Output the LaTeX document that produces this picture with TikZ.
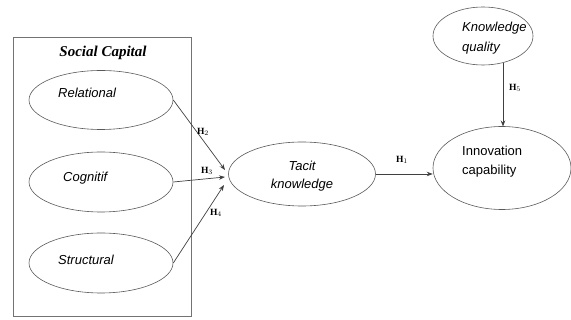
\documentclass[tikz,border=0pt]{standalone}
\usepackage{fontspec}
\setmainfont{Liberation Serif}
\newfontfamily\arialf{Liberation Sans}
\usetikzlibrary{arrows.meta,shapes.geometric}
\begin{document}
\begin{tikzpicture}[x=1pt,y=-1pt,
  ell/.style={draw=black!65,line width=0.6pt,ellipse,inner sep=0pt},
  lbl/.style={font=\arialf\itshape\fontsize{13}{18.5}\selectfont,align=left,inner sep=0pt},
  hyp/.style={font=\bfseries\fontsize{9.5}{10}\selectfont,inner sep=0.5pt},
  conn/.style={draw=black!75,line width=0.7pt,-{Stealth[length=6pt,width=4.5pt]}}]
\useasboundingbox (0,0) rectangle (571,320);
\node[draw=black!55,line width=0.6pt,minimum width=178pt,minimum height=279pt,anchor=north west] (box) at (13,37) {};
\node[font=\bfseries\itshape\fontsize{15}{17}\selectfont] (title) at (103,53) {Social Capital};
\node[ell,minimum width=144pt,minimum height=59pt] (rel) at (101,100) {};
\node[lbl,anchor=west] at (58,93) {Relational};
\node[ell,minimum width=144pt,minimum height=60pt] (cog) at (101,182) {};
\node[lbl,anchor=west] at (63,178) {Cognitif};
\node[ell,minimum width=144pt,minimum height=60pt] (str) at (101,263) {};
\node[lbl,anchor=west] at (58,260) {Structural};
\node[ell,minimum width=147pt,minimum height=64pt] (tac) at (302,174) {};
\node[lbl,align=center] at (302,176) {Tacit\\knowledge};
\node[ell,minimum width=100pt,minimum height=58pt] (kq) at (483,36) {};
\node[lbl,anchor=west,font=\arialf\itshape\fontsize{13}{20}\selectfont] at (462,38) {Knowledge\\quality};
\node[ell,minimum width=138pt,minimum height=83pt] (ic) at (502,168) {};
\node[lbl,font=\arialf\fontsize{13}{19}\selectfont,anchor=west] at (462,162) {Innovation\\capability};
\coordinate (e1) at (225,170);
\coordinate (e2) at (225,177);
\coordinate (e3) at (224,185);
\coordinate (kqb) at (503,63.5);
\coordinate (ict) at (503,126.5);
\draw[conn] (rel.east) -- (e1);
\draw[conn] (cog.east) -- (e2);
\draw[conn] (str.east) -- (e3);
\draw[conn] (tac.east) -- (tac.east -| ic.west);
\draw[conn] (kqb) -- (ict);
\node[hyp] (h2) at (203,132) {H$_2$};
\node[hyp] (h3) at (207,171) {H$_3$};
\node[hyp] (h4) at (216,213) {H$_4$};
\node[hyp] (h1) at (402,160) {H$_1$};
\node[hyp] (h5) at (515,88) {H$_5$};
\end{tikzpicture}
\end{document}
